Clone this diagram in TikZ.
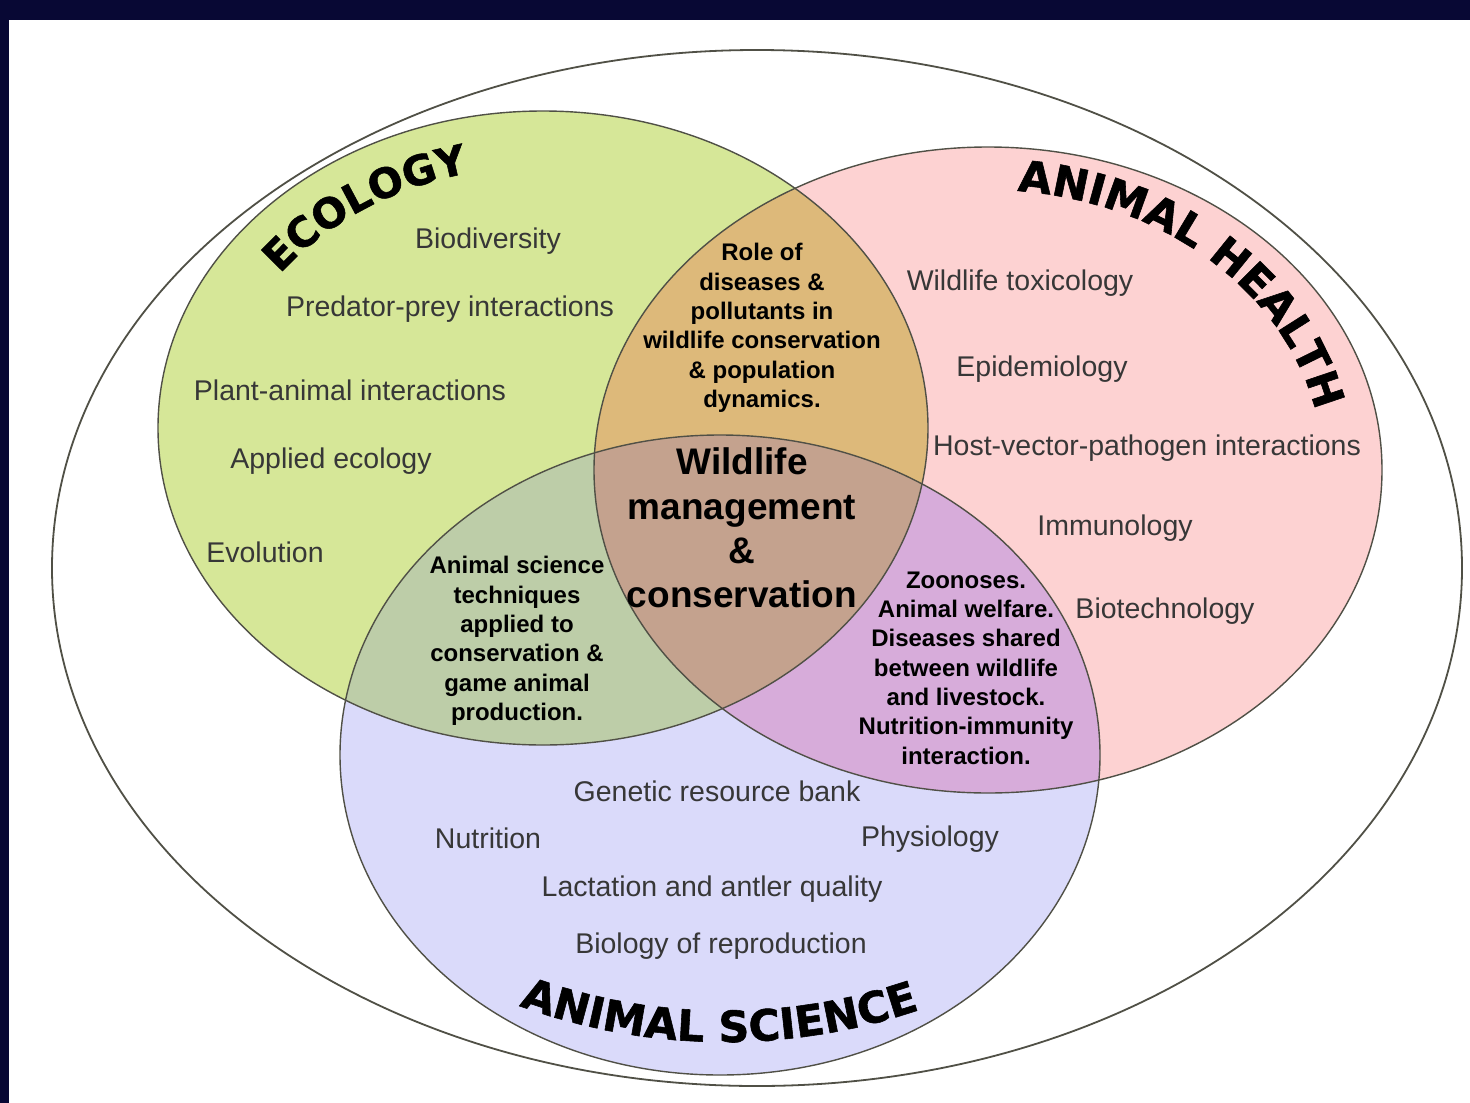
\documentclass[tikz,border=0pt]{standalone}
\usepackage{fontspec}
\setmainfont{Liberation Sans}
\newfontfamily\titlefont{DejaVu Sans}[BoldFeatures={FakeBold=1.3}]
\usetikzlibrary{decorations.text}
\definecolor{slidenavy}{RGB}{8,8,52}
\definecolor{ecogreen}{RGB}{214,231,152}
\definecolor{healthpink}{RGB}{253,210,210}
\definecolor{scililac}{RGB}{218,218,250}
\definecolor{ecohealth}{RGB}{221,185,122}
\definecolor{ecosci}{RGB}{189,205,168}
\definecolor{healthsci}{RGB}{215,172,218}
\definecolor{corebrown}{RGB}{196,162,142}
\definecolor{itemgray}{RGB}{55,55,55}
\definecolor{rimgray}{RGB}{80,80,70}
\newcommand{\bigtitle}{\titlefont\bfseries\fontsize{43}{43}\selectfont}
\newcommand{\ecotitle}{\titlefont\bfseries\fontsize{41}{41}\selectfont}
\tikzset{
    rim/.style={draw=rimgray, line width=1.4pt},
    item/.style={font=\fontsize{28.5}{30}\selectfont, text=itemgray, inner sep=0pt},
    overlap/.style={font=\bfseries\fontsize{24}{29.3}\selectfont, align=center, inner sep=0pt},
    corelbl/.style={font=\bfseries\fontsize{37}{44.3}\selectfont, align=center, inner sep=0pt},
    curvetitle/.style={decorate, decoration={text along path, text={|\bigtitle|#1}, text align=left}},
    ecocurve/.style={decorate, decoration={text along path, text={|\ecotitle|#1}, text align=left}}
}

\begin{document}
\begin{tikzpicture}[x=1pt, y=-1pt]
    \useasboundingbox (0,0) rectangle (1470,1103);
    \fill[slidenavy] (0,0) rectangle (1470,1103);
    \fill[white] (9,20) rectangle (1470,1103);
    % outer frame
    \draw[rim, line width=1.8pt] (757,568) ellipse [x radius=705, y radius=518];
    % the three fields
    \fill[ecogreen] (543,428) ellipse [x radius=385, y radius=317];
    \fill[healthpink] (988,470) ellipse [x radius=394, y radius=323];
    \fill[scililac] (720,755) ellipse [x radius=380, y radius=320];
    \begin{scope}
        \clip (988,470) ellipse [x radius=394, y radius=323];
        \fill[healthsci] (720,755) ellipse [x radius=380, y radius=320];
    \end{scope}
    \begin{scope}
        \clip (543,428) ellipse [x radius=385, y radius=317];
        \fill[ecohealth] (988,470) ellipse [x radius=394, y radius=323];
        \fill[ecosci] (720,755) ellipse [x radius=380, y radius=320];
        \clip (988,470) ellipse [x radius=394, y radius=323];
        \fill[corebrown] (720,755) ellipse [x radius=380, y radius=320];
    \end{scope}
    \draw[rim] (543,428) ellipse [x radius=385, y radius=317];
    \draw[rim] (988,470) ellipse [x radius=394, y radius=323];
    \draw[rim] (720,755) ellipse [x radius=380, y radius=320];
    % curved titles
    \path[ecocurve=ECOLOGY] (543,428) ++(216:325 and 262) arc [start angle=216, end angle=268, x radius=325, y radius=262];
    \path[curvetitle=ANIMAL HEALTH] (988,470) ++(-85:335 and 280) arc [start angle=-85, end angle=-3, x radius=335, y radius=280];
    \path[curvetitle=ANIMAL SCIENCE] (725,440) ++(110:602) arc [start angle=110, end angle=62, radius=602];
    % ecology
    \node[item] (biodiv) at (488,241) {Biodiversity};
    \node[item] (predprey) at (450,309) {Predator-prey interactions};
    \node[item] (plantanim) at (350,390) {Plant-animal interactions};
    \node[item] (applied) at (331,461) {Applied ecology};
    \node[item] (evol) at (265,552) {Evolution};
    % animal health
    \node[item] (toxic) at (1020,283) {Wildlife toxicology};
    \node[item] (epidem) at (1042,369) {Epidemiology};
    \node[item] (hostvec) at (1147,448) {Host-vector-pathogen interactions};
    \node[item] (immuno) at (1115,528) {Immunology};
    \node[item] (biotech) at (1165,611) {Biotechnology};
    % animal science
    \node[item] (genbank) at (717,791) {Genetic resource bank};
    \node[item] (nutri) at (488,838) {Nutrition};
    \node[item] (physio) at (930,839) {Physiology};
    \node[item] (lact) at (712,889) {Lactation and antler quality};
    \node[item] (reprod) at (721,946) {Biology of reproduction};
    % overlaps
    \node[overlap] (ecohealthlbl) at (762,328) {Role of\\diseases \&\\pollutants in\\wildlife conservation\\\& population\\dynamics.};
    \node[overlap] (ecoscilbl) at (517,641) {Animal science\\techniques\\applied to\\conservation \&\\game animal\\production.};
    \node[overlap] (healthscilbl) at (966,668) {Zoonoses.\\Animal welfare.\\Diseases shared\\between wildlife\\and livestock.\\Nutrition-immunity\\interaction.};
    \node[corelbl] (corelbl) at (742,528) {Wildlife\\management\\\&\\conservation};
\end{tikzpicture}
\end{document}
